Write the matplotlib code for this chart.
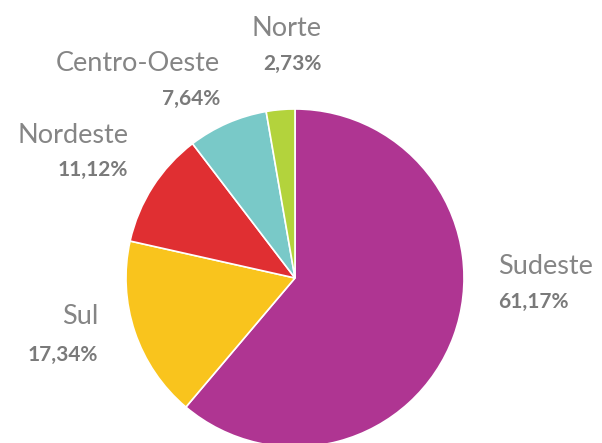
import matplotlib.pyplot as plt

regions = ["Sudeste", "Sul", "Nordeste", "Centro-Oeste", "Norte"]
shares = [61.17, 17.34, 11.12, 7.64, 2.73]
colors = ["#AF3592", "#F9C41D", "#E02F32", "#79C9C8", "#B3D33C"]

# label anchors (x, y of name line, y of value line, alignment), in pixels from top-left
label_pos = {
    "Sudeste": (498, 266, 302, "left"),
    "Sul": (98, 317, 355, "right"),
    "Nordeste": (128, 135, 170, "right"),
    "Centro-Oeste": (220, 63, 99, "right"),
    "Norte": (322, 28, 64, "right"),
}

W, H = 602, 443
fig = plt.figure(figsize=(W / 100, H / 100), dpi=100)
ax = fig.add_axes([0, 0, 1, 1])
ax.set_xlim(0, W)
ax.set_ylim(0, H)
ax.set_aspect("equal")
ax.axis("off")

ax.pie(shares, colors=colors, startangle=90, counterclock=False,
       center=(295, H - 278), radius=169,
       wedgeprops=dict(edgecolor="white", linewidth=1.2))
ax.set_xlim(0, W)
ax.set_ylim(0, H)

for name, val in zip(regions, shares):
    x, yn, yv, ha = label_pos[name]
    ax.text(x, H - yn, name, ha=ha, va="center", fontsize=19.5,
            color="#858585", family="Lato")
    ax.text(x, H - yv, f"{val:.2f}%".replace(".", ","), ha=ha, va="center",
            fontsize=15, color="#7A7A7A", family="Lato", fontweight="bold")

fig.savefig("out.png", dpi=100)
